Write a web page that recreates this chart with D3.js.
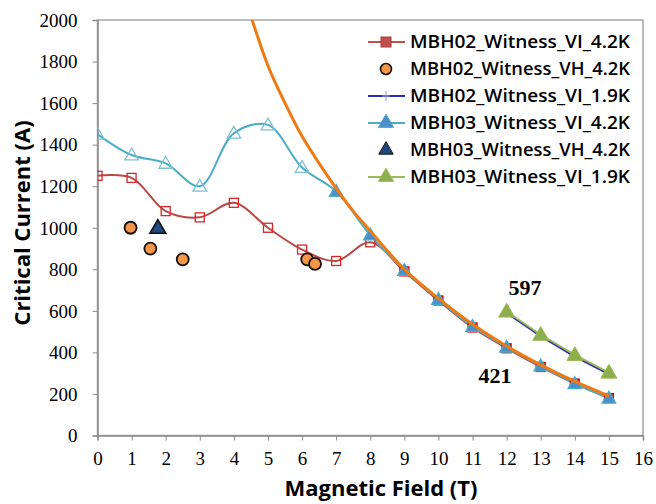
<!DOCTYPE html>
<html>
<head>
<meta charset="utf-8">
<script src="https://cdn.jsdelivr.net/npm/d3@7"></script>
<style>
  body { margin: 0; background: #fff; }
  .tick-lbl { font-family: "Liberation Serif", "Times New Roman", serif; font-size: 19px; fill: #000; }
  .ax-title { font-family: "Open Sans", "Liberation Sans", sans-serif; font-weight: 700; font-size: 22px; fill: #000; }
  .leg { font-family: "Open Sans", "Liberation Sans", sans-serif; font-weight: 600; font-size: 17.5px; fill: #000; }
  .note { font-family: "Liberation Serif", "Times New Roman", serif; font-weight: 700; font-size: 22px; fill: #000; }
</style>
</head>
<body>
<svg id="chart" width="656" height="504"></svg>
<script>
// datos
const fieldT = [0, 1, 2, 3, 4, 5, 6, 7, 8, 9, 10, 11, 12, 13, 14, 15];
const mbh02Vi42 = [1250, 1240, 1080, 1050, 1120, 1000, 895, 840, 930, 790, 650, 520, 420, 330, 250, 180];
const mbh03Vi42 = [1450, 1350, 1310, 1200, 1455, 1495, 1290, 1175, 965, 795, 655, 525, 425, 335, 250, 180];

const highField = [12, 13, 14, 15];
const mbh02Vi19 = [590, 478, 380, 295];
const mbh03Vi19 = [597, 485, 388, 303];

const mbh02VhX = [0.97, 1.55, 2.5, 6.15, 6.38];
const mbh02VhY = [1000, 900, 848, 848, 826];
const mbh03VhX = [1.77];
const mbh03VhY = [1000];

// curva de ajuste (naranja)
const fitX = [4.4, 5, 5.5, 6, 6.5, 7, 7.5, 8, 9, 10, 11, 12, 13, 14, 15];
const fitY = [2070, 1780, 1600, 1440, 1310, 1190, 1080, 985, 800, 660, 535, 430, 340, 260, 190];

const xTicks = d3.range(0, 17);
const yTicks = [0, 200, 400, 600, 800, 1000, 1200, 1400, 1600, 1800, 2000];

const legendNames = ["MBH02_Witness_VI_4.2K", "MBH02_Witness_VH_4.2K", "MBH02_Witness_VI_1.9K",
                     "MBH03_Witness_VI_4.2K", "MBH03_Witness_VH_4.2K", "MBH03_Witness_VI_1.9K"];
const annotations = [{x: 12.54, y: 597, t: "597", dy: -16}, {x: 11.66, y: 421, t: "421", dy: 35}];

let svg = d3.select("#chart");

let x = d3.scaleLinear().domain([0, 16]).range([97.5, 643]);
let y = d3.scaleLinear().domain([0, 2000]).range([435.5, 20]);

const red = "#C0504D", blue = "#4BACC6", green = "#9BBB59", navy = "#2B2BB8", orange = "#F07A12";

// marco del área de trazado
svg.append("rect")
    .attr("x", x(0)).attr("y", y(2000))
    .attr("width", x(16) - x(0)).attr("height", y(0) - y(2000))
    .attr("fill", "none").attr("stroke", "#a6a6a6").attr("stroke-width", 1.5);

svg.append("clipPath").attr("id", "clip")
    .append("rect")
    .attr("x", x(0)).attr("y", y(2000))
    .attr("width", x(16) - x(0)).attr("height", y(0) - y(2000));

// ejes
let yAxis = svg.append("g")
    .attr("transform", "translate(" + x(0) + ",0)")
    .call(d3.axisLeft(y).tickValues(yTicks).tickSize(5).tickPadding(15).tickFormat(d3.format("d")));
let xAxis = svg.append("g")
    .attr("transform", "translate(0," + y(0) + ")")
    .call(d3.axisBottom(x).tickValues(xTicks).tickSize(5).tickPadding(10).tickFormat(d3.format("d")));
[xAxis, yAxis].forEach(function(g) {
    g.select(".domain").attr("stroke", "#8c8c8c").attr("stroke-width", 1.5);
    g.selectAll(".tick line").attr("stroke", "#8c8c8c");
    g.selectAll(".tick text").attr("class", "tick-lbl").attr("font-family", null).attr("font-size", null);
});
yAxis.selectAll(".tick text").attr("dy", "0.33em");
xAxis.selectAll(".tick text").attr("dy", "0.75em");

svg.append("text").attr("class", "ax-title")
    .attr("text-anchor", "middle")
    .attr("transform", "translate(30,223) rotate(-90)")
    .text("Critical Current (A)");
svg.append("text").attr("class", "ax-title")
    .attr("text-anchor", "middle")
    .attr("x", 381).attr("y", 496)
    .text("Magnetic Field (T)");

let plot = svg.append("g").attr("clip-path", "url(#clip)");

let smooth = d3.line().x(d => x(d[0])).y(d => y(d[1])).curve(d3.curveCatmullRom.alpha(0.5));
let straight = d3.line().x(d => x(d[0])).y(d => y(d[1]));

const zip = (xs, ys) => xs.map((v, i) => [v, ys[i]]);

// líneas
plot.append("path").datum(zip(fieldT, mbh02Vi42))
    .attr("d", smooth).attr("fill", "none").attr("stroke", "#B84A45").attr("stroke-width", 2);
plot.append("path").datum(zip(fieldT, mbh03Vi42))
    .attr("d", smooth).attr("fill", "none").attr("stroke", blue).attr("stroke-width", 2);

const tri = d3.symbol().type(d3.symbolTriangle).size(80);
const sq = 9;

// marcadores MBH02 VI 4.2K
plot.selectAll(".sq").data(zip(fieldT, mbh02Vi42)).enter().append("rect")
    .attr("x", d => x(d[0]) - sq / 2).attr("y", d => y(d[1]) - sq / 2)
    .attr("width", sq).attr("height", sq)
    .attr("fill", d => d[0] <= 8 ? "#fff" : red)
    .attr("fill-opacity", d => d[0] <= 8 ? 0 : 1)
    .attr("stroke", d => d[0] <= 8 ? "#D8262A" : "#E00000").attr("stroke-width", 1.3);

// marcadores MBH03 VI 4.2K
plot.selectAll(".tri").data(zip(fieldT, mbh03Vi42)).enter().append("path")
    .attr("d", tri)
    .attr("transform", d => "translate(" + x(d[0]) + "," + (y(d[1]) + 1) + ")")
    .attr("fill", d => d[0] <= 6 ? "#fff" : "#4A8FCC")
    .attr("fill-opacity", d => d[0] <= 6 ? 0 : 1)
    .attr("stroke", d => d[0] <= 6 ? "#7CC0D6" : blue).attr("stroke-width", 1.3);

// 1.9K
plot.append("path").datum(zip(highField, mbh02Vi19))
    .attr("d", straight).attr("fill", "none").attr("stroke", navy).attr("stroke-width", 2);
plot.append("path").datum(zip(highField, mbh03Vi19))
    .attr("d", straight).attr("fill", "none").attr("stroke", green).attr("stroke-width", 2);
plot.selectAll(".g19").data(zip(highField, mbh03Vi19)).enter().append("path")
    .attr("d", d3.symbol().type(d3.symbolTriangle).size(110))
    .attr("transform", d => "translate(" + x(d[0]) + "," + (y(d[1]) + 1) + ")")
    .attr("fill", "#8DAE4D").attr("stroke", green).attr("stroke-width", 1);

// VH
plot.selectAll(".circ").data(zip(mbh02VhX, mbh02VhY)).enter().append("circle")
    .attr("cx", d => x(d[0])).attr("cy", d => y(d[1])).attr("r", 6)
    .attr("fill", "#F79646").attr("stroke", "#111").attr("stroke-width", 1.8);
plot.selectAll(".dtri").data(zip(mbh03VhX, mbh03VhY)).enter().append("path")
    .attr("d", d3.symbol().type(d3.symbolTriangle).size(110))
    .attr("transform", d => "translate(" + x(d[0]) + "," + (y(d[1]) + 1) + ")")
    .attr("fill", "#1F497D").attr("stroke", "#111").attr("stroke-width", 1.5);

// curva de ajuste
plot.append("path").datum(zip(fitX, fitY))
    .attr("d", smooth).attr("fill", "none").attr("stroke", orange).attr("stroke-width", 3);

// anotaciones
svg.selectAll(".note").data(annotations).enter().append("text")
    .attr("class", "note").attr("text-anchor", "middle")
    .attr("x", d => x(d.x)).attr("y", d => y(d.y) + d.dy)
    .text(d => d.t);

// leyenda
let legend = svg.append("g").attr("transform", "translate(368,42)");
legendNames.forEach(function(name, i) {
    let row = legend.append("g").attr("transform", "translate(0," + (i * 27) + ")");
    let lineCol = [red, null, navy, blue, null, green][i];
    if (lineCol) row.append("line").attr("x1", 0).attr("x2", 37).attr("stroke", lineCol).attr("stroke-width", 2);
    if (i === 0) row.append("rect").attr("x", 13).attr("y", -5).attr("width", 10).attr("height", 10)
        .attr("fill", red).attr("stroke", "#A33A36");
    if (i === 1) row.append("circle").attr("cx", 18).attr("r", 5.5)
        .attr("fill", "#F79646").attr("stroke", "#111").attr("stroke-width", 1.6);
    if (i === 2) row.append("path").attr("d", "M18,-5V5M14,0H22").attr("stroke", "#9aa0d8").attr("stroke-width", 1);
    if (i === 3) row.append("path").attr("d", d3.symbol().type(d3.symbolTriangle).size(100))
        .attr("transform", "translate(18,0)").attr("fill", "#4A8FCC").attr("stroke", blue);
    if (i === 4) row.append("path").attr("d", d3.symbol().type(d3.symbolTriangle).size(90))
        .attr("transform", "translate(18,0)").attr("fill", "#1F497D").attr("stroke", "#111");
    if (i === 5) row.append("path").attr("d", d3.symbol().type(d3.symbolTriangle).size(100))
        .attr("transform", "translate(18,0)").attr("fill", "#8DAE4D").attr("stroke", green);
    row.append("text").attr("class", "leg").attr("x", 42).attr("y", 0).attr("dy", "0.36em")
        .attr("textLength", 220).attr("lengthAdjust", "spacingAndGlyphs")
        .text(name);
});
</script>
</body>
</html>
